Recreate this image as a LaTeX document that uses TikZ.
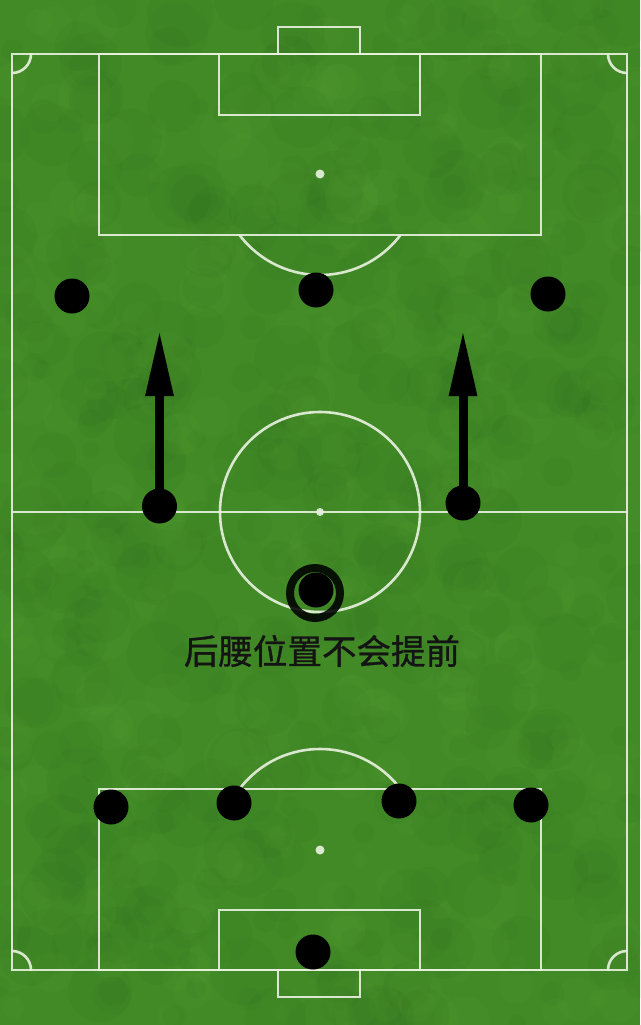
\documentclass[tikz,border=0pt]{standalone}
\usepackage{fontspec}
\newfontfamily\cjk{Noto Sans CJK SC}[FakeBold=0.9]
\usetikzlibrary{arrows.meta}
\definecolor{grass}{RGB}{66,138,38}
\definecolor{grassdark}{RGB}{38,100,26}
\definecolor{grasslight}{RGB}{105,172,58}
\definecolor{chalk}{RGB}{232,240,222}
\begin{document}
\begin{tikzpicture}[x=1pt,y=-1pt,
  pitchline/.style={draw=chalk, line width=2.6pt, opacity=0.92},
  spot/.style={fill=chalk, opacity=0.92},
  player/.style={circle, fill=black, minimum size=35pt, inner sep=0pt},
  run/.style={draw=black, line width=9pt, -{Triangle[length=66pt,width=26pt]}}]
\useasboundingbox (0,0) rectangle (640,1025);
% grass
\fill[grass] (0,0) rectangle (640,1025);
\pgfmathsetseed{7}
\foreach \i in {1,...,420}{
  \pgfmathsetmacro{\px}{640*rnd}
  \pgfmathsetmacro{\py}{1025*rnd}
  \pgfmathsetmacro{\pr}{8+26*rnd}
  \fill[grassdark, opacity=0.08] (\px,\py) circle[radius=\pr pt];
}
\foreach \i in {1,...,320}{
  \pgfmathsetmacro{\px}{640*rnd}
  \pgfmathsetmacro{\py}{1025*rnd}
  \pgfmathsetmacro{\pr}{6+22*rnd}
  \fill[grasslight, opacity=0.07] (\px,\py) circle[radius=\pr pt];
}
% field outline and halfway line
\draw[pitchline] (12,54) rectangle (627,970);
\draw[pitchline] (12,512) -- (627,512);
% centre circle and spot
\draw[pitchline] (320,512) circle[radius=100pt];
\fill[spot] (320,512) circle[radius=4pt];
% top end
\draw[pitchline] (99,54) rectangle (541,235);
\draw[pitchline] (219,54) rectangle (420,115);
\draw[pitchline] (278,27) rectangle (360,54);
\fill[spot] (320,174) circle[radius=4.5pt];
\begin{scope}
  \clip (0,235) rectangle (640,400);
  \draw[pitchline] (320,174) circle[radius=101pt];
\end{scope}
% bottom end
\draw[pitchline] (99,789) rectangle (541,970);
\draw[pitchline] (219,910) rectangle (420,970);
\draw[pitchline] (278,970) rectangle (360,997);
\fill[spot] (320,850) circle[radius=4.5pt];
\begin{scope}
  \clip (0,620) rectangle (640,789);
  \draw[pitchline] (320,850) circle[radius=101pt];
\end{scope}
% corner arcs
\begin{scope}
  \clip (12,54) rectangle (627,970);
  \draw[pitchline] (12,54) circle[radius=19pt];
  \draw[pitchline] (627,54) circle[radius=19pt];
  \draw[pitchline] (12,970) circle[radius=19pt];
  \draw[pitchline] (627,970) circle[radius=19pt];
\end{scope}
% players
\node[player] (fl) at (72,296) {};
\node[player] (fc) at (316,290) {};
\node[player] (fr) at (548,294) {};
\node[player] (ml) at (159.5,506) {};
\node[player] (mr) at (463,503) {};
\node[player] (dm) at (316,590) {};
\draw[draw=black, line width=8pt, opacity=0.88] (315,593) circle[radius=25pt];
\node[player] (bl) at (111,807) {};
\node[player] (bcl) at (234,803) {};
\node[player] (bcr) at (399,801) {};
\node[player] (br) at (531,805) {};
\node[player] (gk) at (313,952) {};
% forward runs
\coordinate (tl) at (159.5,330);
\coordinate (tr) at (463,330);
\draw[run] (ml.center) -- (tl);
\draw[run] (mr.center) -- (tr);
% label
\node[font=\cjk\fontsize{34.5}{34.5}\selectfont, text=black!92] (lbl) at (322,651) {后腰位置不会提前};
\end{tikzpicture}
\end{document}
